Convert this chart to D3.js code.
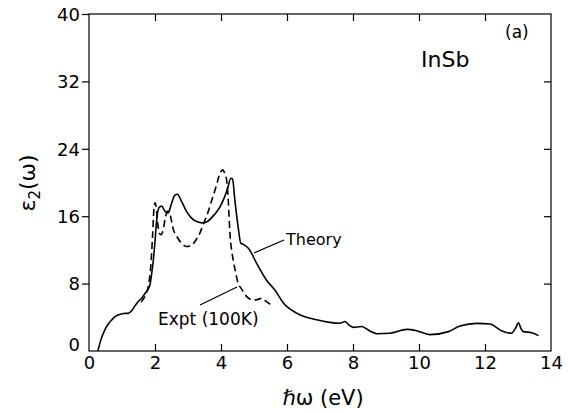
<!DOCTYPE html>
<html><head><meta charset="utf-8">
<script src="https://cdn.jsdelivr.net/npm/d3@7"></script>
<style>body{margin:0;background:#fff}svg{display:block}text{font-family:"DejaVu Sans",sans-serif;fill:#000}</style>
</head><body>
<script>
const xTicks = [0,2,4,6,8,10,12,14];
const yTicks = [0,8,16,24,32,40];
const theoryE = [0.27,0.35,0.48,0.6,0.69,0.8,0.9,1.05,1.19,1.3,1.4,1.5,1.6,1.7,1.8,1.85,1.9,1.95,2.0,2.05,2.12,2.2,2.3,2.4,2.5,2.6,2.68,2.8,2.95,3.1,3.3,3.46,3.6,3.8,3.97,4.1,4.2,4.3,4.35,4.42,4.53,4.6,4.7,4.83,5.08,5.38,5.64,5.89,6.29,6.9,7.3,7.6,7.76,7.85,8.01,8.26,8.5,8.72,9.12,9.63,9.93,10.33,10.89,11.24,11.75,12.15,12.5,12.8,12.95,13.01,13.1,13.16,13.42,13.62];
const theoryEps = [0,1.2,2.5,3.3,3.7,4.1,4.3,4.45,4.47,4.8,5.4,5.9,6.3,6.85,7.4,7.9,9.2,10.8,13.0,15.5,17.0,17.2,16.6,16.4,17.5,18.5,18.6,17.8,16.6,15.8,15.3,15.2,15.4,16.2,17.1,18.2,19.3,20.5,20.4,17.9,14.4,12.8,12.6,12.2,10.4,8.4,7.2,5.7,4.5,3.7,3.4,3.3,3.5,3.2,2.8,2.9,2.4,2.05,2.1,2.57,2.41,1.94,2.3,2.97,3.28,3.2,2.41,2.1,2.9,3.36,2.6,2.3,2.17,1.82];
const exptE = [1.58,1.65,1.75,1.82,1.88,1.93,1.97,2.0,2.04,2.08,2.13,2.18,2.25,2.32,2.4,2.47,2.55,2.66,2.8,2.96,3.1,3.21,3.35,3.46,3.6,3.72,3.85,3.97,4.05,4.12,4.17,4.22,4.27,4.32,4.37,4.45,4.52,4.6,4.78,4.98,5.1,5.23,5.38,5.58];
const exptEps = [5.8,6.2,7.0,8.2,10.5,14.0,17.0,17.6,17.0,15.2,14.0,13.8,14.4,16.0,16.6,16.0,14.5,13.6,12.8,12.4,12.5,13.0,13.9,15.0,16.4,17.9,19.5,21.1,21.5,21.0,20.3,17.9,14.0,12.0,10.8,9.2,8.0,7.5,6.45,6.05,6.1,6.25,5.85,5.26];

const W = 568, H = 412;
const svg = d3.select("body").append("svg").attr("width", W).attr("height", H);
const x = d3.scaleLinear().domain([0,14]).range([89,551]);
const y = d3.scaleLinear().domain([0,40]).range([351,14]);

svg.append("rect").attr("x",89).attr("y",14).attr("width",462).attr("height",337)
  .attr("fill","none").attr("stroke","#000").attr("stroke-width",1.2);

const gl = svg.append("g").attr("transform","translate(89,0)")
  .call(d3.axisLeft(y).tickValues(yTicks).tickSize(7).tickPadding(2).tickFormat(d3.format("d")));
gl.select(".domain").remove();
gl.selectAll("line").attr("stroke-width",1.2);
gl.selectAll("text").style("font-size","18px").attr("dy","0.35em");
gl.selectAll(".tick").filter(d=>d===0).select("text").attr("dy","-0.05em");
gl.selectAll(".tick").filter(d=>d===0).select("line").remove();

const gr = svg.append("g").attr("transform","translate(551,0)")
  .call(d3.axisLeft(y).tickValues(yTicks.filter(d=>d>0&&d<40)).tickSize(7).tickFormat(""));
gr.select(".domain").remove();
gr.selectAll("line").attr("stroke-width",1.2);

const gb = svg.append("g").attr("transform","translate(0,351)")
  .call(d3.axisTop(x).tickValues(xTicks).tickSize(7).tickFormat(""));
gb.select(".domain").remove();
gb.selectAll("line").attr("stroke-width",1.2);
gb.selectAll(".tick").filter(d=>d===0||d===14).remove();
const gbl = svg.append("g").attr("transform","translate(0,351)")
  .call(d3.axisBottom(x).tickValues(xTicks).tickSize(0).tickPadding(5).tickFormat(d3.format("d")));
gbl.select(".domain").remove();
gbl.selectAll("text").style("font-size","18px");

const gt = svg.append("g").attr("transform","translate(0,14)")
  .call(d3.axisBottom(x).tickValues(xTicks.filter(d=>d>0&&d<14)).tickSize(7).tickFormat(""));
gt.select(".domain").remove();
gt.selectAll("line").attr("stroke-width",1.2);

const line = d3.line().x(d=>x(d[0])).y(d=>y(d[1])).curve(d3.curveMonotoneX);
svg.append("path").datum(theoryE.map((e,i)=>[e,theoryEps[i]]))
  .attr("d",line).attr("fill","none").attr("stroke","#000").attr("stroke-width",1.6);
svg.append("path").datum(exptE.map((e,i)=>[e,exptEps[i]]))
  .attr("d",line).attr("fill","none").attr("stroke","#000").attr("stroke-width",1.6)
  .attr("stroke-dasharray","7,4");

svg.append("line").attr("x1",254).attr("y1",253).attr("x2",284).attr("y2",240).attr("stroke","#000").attr("stroke-width",1.2);
svg.append("text").attr("x",286).attr("y",245).style("font-size","16px").text("Theory");
svg.append("line").attr("x1",200).attr("y1",305).attr("x2",237).attr("y2",287).attr("stroke","#000").attr("stroke-width",1.2);
svg.append("text").attr("x",158).attr("y",325).style("font-size","17px").text("Expt (100K)");
svg.append("text").attr("x",421).attr("y",67).style("font-size","22px").text("InSb");
svg.append("text").attr("x",505).attr("y",38).style("font-size","17px").text("(a)");

svg.append("text").attr("x",323).attr("y",405).attr("text-anchor","middle").style("font-size","21px").text("ℏω (eV)");
const yt = svg.append("text").attr("transform","translate(35,183) rotate(-90)").attr("text-anchor","middle").style("font-size","22px");
yt.append("tspan").text("ε");
yt.append("tspan").attr("dy","5").style("font-size","15px").text("2");
yt.append("tspan").attr("dy","-5").text("(ω)");
</script>
</body></html>
